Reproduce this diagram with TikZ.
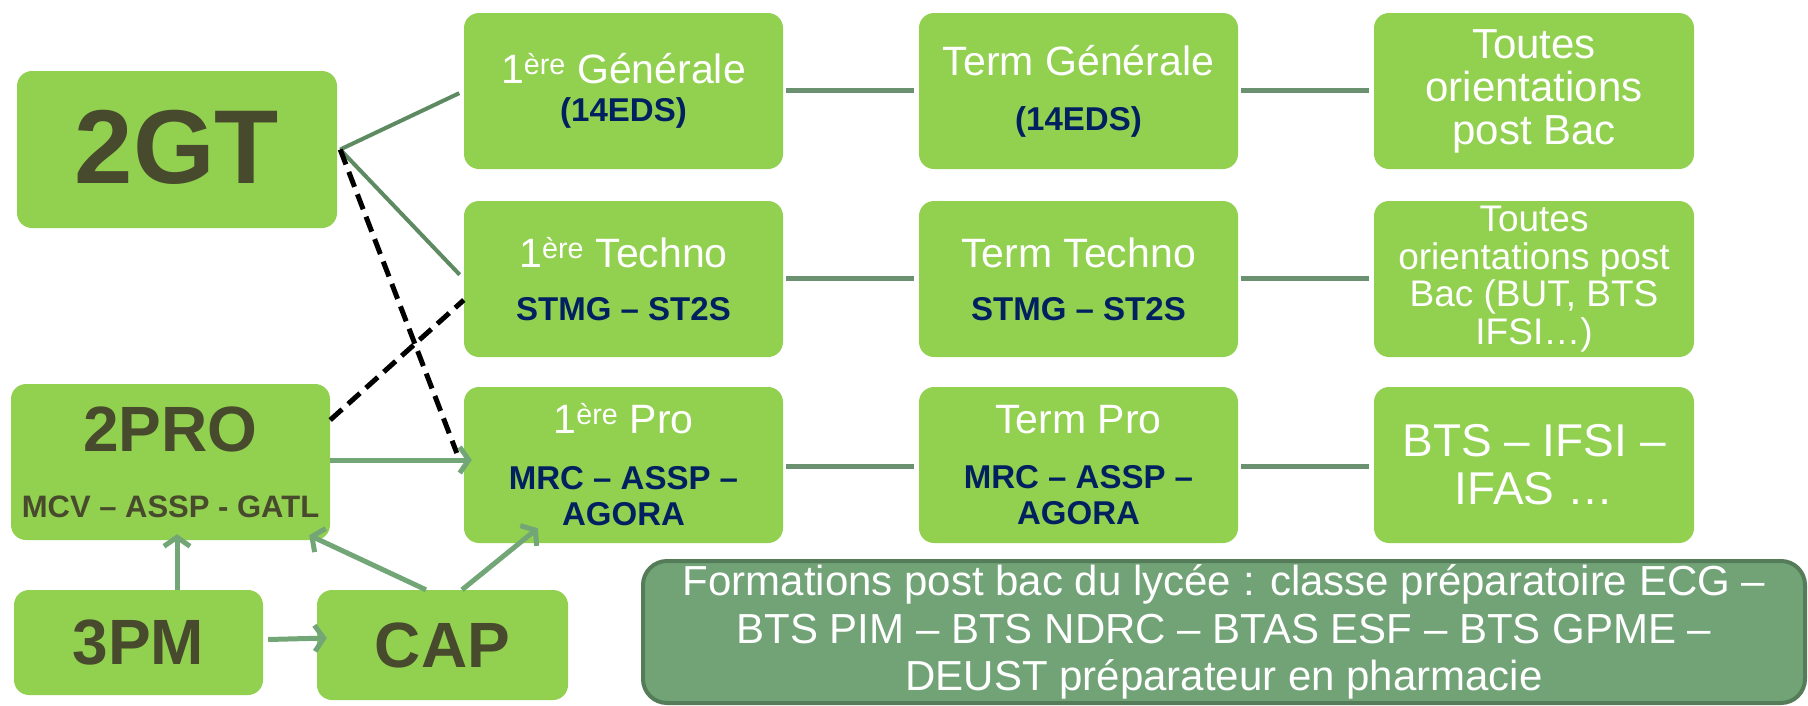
\documentclass[tikz,border=0pt]{standalone}
\usepackage{fontspec}
\setmainfont{Liberation Sans}
\usetikzlibrary{arrows.meta}
\definecolor{boxg}{HTML}{92D050}
\definecolor{darkt}{HTML}{474A2C}
\definecolor{navy}{HTML}{002060}
\definecolor{linkg}{HTML}{6A9270}
\definecolor{leadg}{HTML}{5E8A62}
\definecolor{arrg}{HTML}{72A677}
\definecolor{botfill}{HTML}{71A377}
\definecolor{botdraw}{HTML}{557C58}
\newcommand\ere{\textsuperscript{ère}}
\newcommand\fsz[2]{\fontsize{#1}{#2}\selectfont}
\tikzset{
  box/.style={fill=boxg, rounded corners=15pt, inner sep=0pt, align=center, text=white},
  link/.style={draw=linkg, line width=5pt, shorten <=3pt, shorten >=5pt},
  lead/.style={draw=leadg, line width=4pt},
  dashlink/.style={draw=black, line width=5pt, dash pattern=on 16pt off 8pt},
  arr/.style={draw=arrg, line width=5pt, -{Straight Barb[length=9pt,width=26pt]}},
  botbox/.style={fill=botfill, draw=botdraw, line width=4pt, rounded corners=24pt, inner sep=0pt, align=center, text=white}
}
\begin{document}
\begin{tikzpicture}[x=1pt,y=-1pt]
\useasboundingbox (0,0) rectangle (1808,705);
% left column
\node[box, minimum width=320pt, minimum height=157pt, text=darkt, font=\fsz{105}{105}\bfseries] (gt) at (177,149.5) {\raisebox{5pt}{2GT}};
\node[box, minimum width=319pt, minimum height=156pt, text=darkt, font=\fsz{31}{36}\bfseries] (pro2) at (170.5,462) {{\fsz{64}{36}2PRO}\\[30pt]MCV – ASSP - GATL};
\node[box, minimum width=249pt, minimum height=105pt, text=darkt, font=\fsz{64}{64}\bfseries] (pm3) at (138.5,642.5) {3PM};
\node[box, minimum width=251pt, minimum height=110pt, text=darkt, font=\fsz{64}{64}\bfseries] (cap) at (442.5,645) {CAP};
% column 1
\node[box, minimum width=319pt, minimum height=156pt, font=\fsz{41}{38}] (gen1) at (623.5,91) {1\ere{} Générale\\{\fsz{33}{38}\bfseries\color{navy}(14EDS)}};
\node[box, minimum width=319pt, minimum height=156pt, font=\fsz{41}{38}] (tech1) at (623.5,279) {1\ere{} Techno\\[15pt]{\fsz{33}{38}\bfseries\color{navy}STMG – ST2S}};
\node[box, minimum width=319pt, minimum height=156pt, font=\fsz{41}{36}] (pro1) at (623.5,465) {1\ere{} Pro\\[20pt]{\fsz{33}{36}\bfseries\color{navy}MRC – ASSP –}\\{\fsz{33}{36}\bfseries\color{navy}AGORA}};
% column 2
\node[box, minimum width=319pt, minimum height=156pt, font=\fsz{41}{38}] (gen2) at (1078.5,91) {Term Générale\\[17pt]{\fsz{33}{38}\bfseries\color{navy}(14EDS)}};
\node[box, minimum width=319pt, minimum height=156pt, font=\fsz{41}{38}] (tech2) at (1078.5,279) {Term Techno\\[15pt]{\fsz{33}{38}\bfseries\color{navy}STMG – ST2S}};
\node[box, minimum width=319pt, minimum height=156pt, font=\fsz{41}{36}] (pro2b) at (1078.5,465) {Term Pro\\[19pt]{\fsz{33}{36}\bfseries\color{navy}MRC – ASSP –}\\{\fsz{33}{36}\bfseries\color{navy}AGORA}};
% column 3
\node[box, minimum width=320pt, minimum height=156pt, font=\fsz{42}{43}] (gen3) at (1534,91) {Toutes\\orientations\\post Bac};
\node[box, minimum width=320pt, minimum height=156pt, font=\fsz{37}{37.5}] (tech3) at (1534,279) {Toutes\\orientations post\\Bac (BUT, BTS\\IFSI…)};
\node[box, minimum width=320pt, minimum height=156pt, font=\fsz{46}{48}] (pro3) at (1534,465) {BTS – IFSI –\\IFAS …};
% bottom box
\node[botbox, minimum width=1162pt, minimum height=142pt, font=\fsz{42}{47.5}] (post) at (1224,632) {\raisebox{-3pt}{Formations post bac du lycée : classe préparatoire ECG –}\\\raisebox{-3pt}{BTS PIM – BTS NDRC – BTAS ESF – BTS GPME –}\\\raisebox{-3pt}{DEUST préparateur en pharmacie}};
% horizontal links
\draw[link] ([yshift=1pt]gen1.east) -- ([yshift=1pt]gen2.west);
\draw[link] ([yshift=1pt]gen2.east) -- ([yshift=1pt]gen3.west);
\draw[link] ([yshift=1pt]tech1.east) -- ([yshift=1pt]tech2.west);
\draw[link] ([yshift=1pt]tech2.east) -- ([yshift=1pt]tech3.west);
\draw[link] ([yshift=-1pt]pro1.east) -- ([yshift=-1pt]pro2b.west);
\draw[link] ([yshift=-1pt]pro2b.east) -- ([yshift=-1pt]pro3.west);
% from 2GT
\coordinate (gtout) at ([xshift=3pt]gt.east);
\draw[lead, shorten >=5pt] (gtout) -- (gen1.west);
\draw[lead, shorten >=6pt] (gtout) -- (tech1.west);
\draw[dashlink] (gtout) -- ([xshift=-7pt,yshift=12pt]pro1.west);
\draw[dashlink] ([yshift=42pt]pro2.east) -- ([yshift=-21pt]tech1.west);
% arrows
\draw[arr] ([yshift=2pt]pro2.east) -- ([xshift=8pt,yshift=5pt]pro1.west);
\draw[arr] ([xshift=38.5pt]pm3.north) -- ([xshift=6.5pt,yshift=6pt]pro2.south);
\draw[arr] ([xshift=5pt,yshift=3pt]pm3.east) -- ([xshift=10pt,yshift=7pt]cap.west);
\draw[arr] ([xshift=-16.5pt]cap.north) -- ([xshift=-21pt,yshift=5pt]pro2.south east);
\draw[arr] ([xshift=19.5pt]cap.north) -- ([xshift=74pt,yshift=15pt]pro1.south west);
\end{tikzpicture}
\end{document}
